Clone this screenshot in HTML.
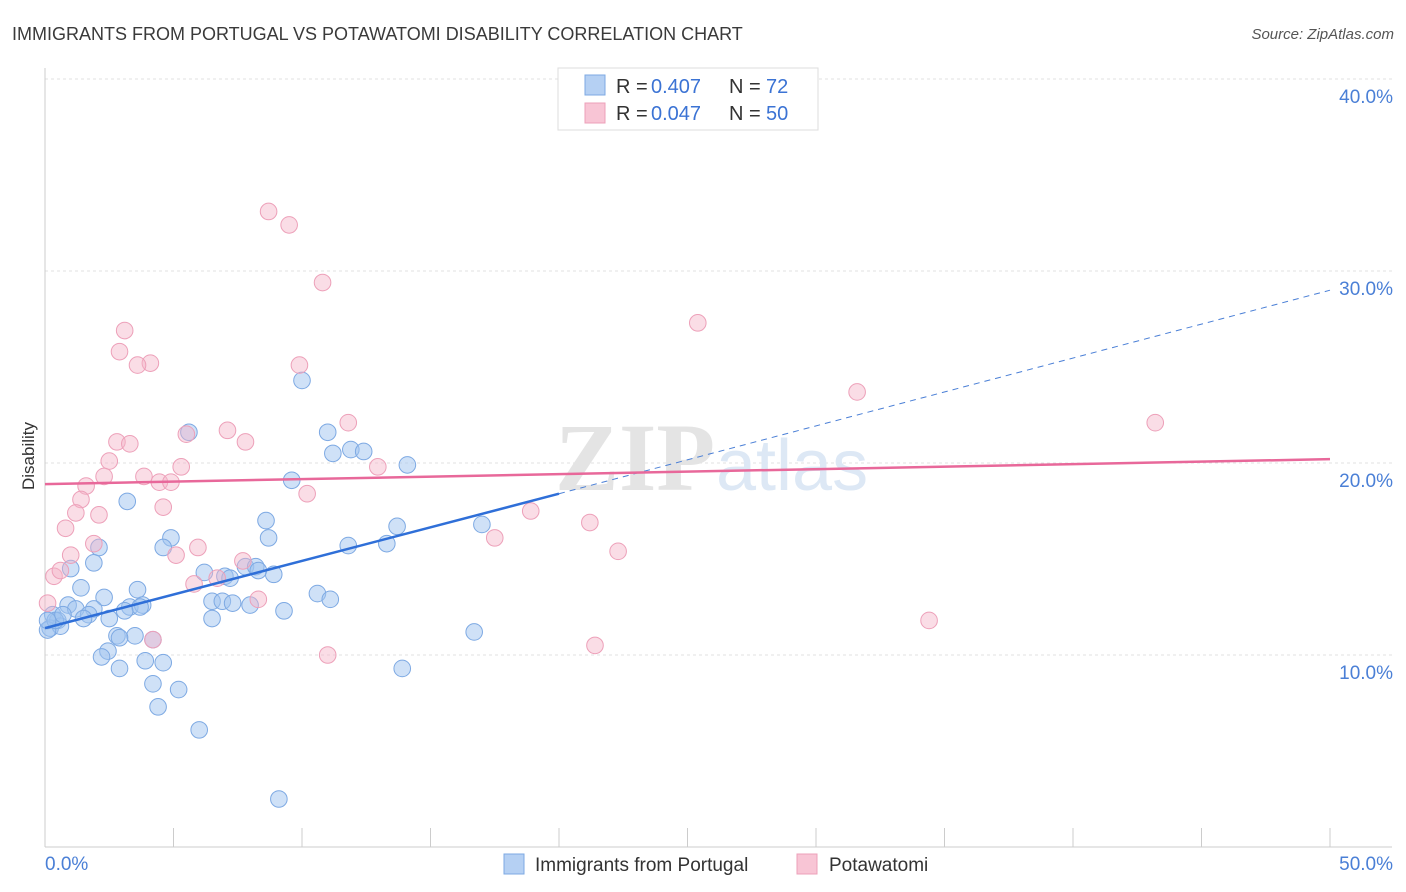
<!DOCTYPE html>
<html><head><meta charset="utf-8">
<style>
body{margin:0;background:#fff;font-family:"Liberation Sans",sans-serif;}
#wrap{position:relative;width:1406px;height:892px;overflow:hidden;}
</style></head>
<body><div id="wrap">
<svg id="chart" width="1406" height="892"></svg>
</div>
<script>
const xTicks=[0,5,10,15,20,25,30,35,40,45,50];
const yTicks=[10,20,30,40];
const blueX=[10.0,5.6,11.0,11.9,11.2,12.4,14.1,9.6,3.2,8.6,13.7,17.0,8.7,4.9,4.6,2.1,11.8,13.3,1.9,1.0,7.8,8.2,8.9,8.3,6.2,7.0,7.2,1.4,3.6,10.6,11.1,2.3,6.5,6.9,7.3,7.980,0.9,1.9,1.2,3.3,3.8,3.7,3.1,9.3,6.5,1.7,1.5,2.5,0.3,0.5,0.2,0.6,0.1,2.8,3.5,4.2,2.9,16.7,2.45,2.2,3.9,4.6,2.9,13.9,4.2,5.2,4.4,6.0,9.1,0.4,0.7,0.1];
const blueY=[24.3,21.6,21.6,20.7,20.5,20.6,19.9,19.1,18.0,17.0,16.7,16.8,16.1,16.1,15.6,15.6,15.7,15.8,14.8,14.5,14.6,14.6,14.2,14.4,14.3,14.1,14.0,13.5,13.4,13.2,12.9,13.0,12.8,12.8,12.7,12.6,12.6,12.4,12.4,12.5,12.6,12.5,12.3,12.3,11.9,12.1,11.9,11.9,12.1,11.8,11.4,11.5,11.3,11.0,11.0,10.8,10.9,11.2,10.2,9.9,9.7,9.6,9.3,9.3,8.5,8.2,7.3,6.1,2.5,11.8,12.1,11.8];
const pinkX=[8.7,9.5,10.8,3.1,2.9,4.1,3.6,9.9,25.4,31.6,43.2,11.8,7.1,5.5,7.8,2.8,3.3,2.5,5.3,3.85,2.3,12.95,4.45,4.9,1.6,1.4,10.2,4.6,2.1,1.2,18.9,21.2,0.8,17.5,1.9,5.95,5.1,1.0,22.3,7.7,0.35,0.6,6.7,5.8,8.3,0.1,34.4,4.2,11.0,21.4];
const pinkY=[33.1,32.4,29.4,26.9,25.8,25.2,25.1,25.1,27.3,23.7,22.1,22.1,21.7,21.5,21.1,21.1,21.0,20.1,19.8,19.3,19.3,19.8,19.0,19.0,18.8,18.1,18.4,17.7,17.3,17.4,17.5,16.9,16.6,16.1,15.8,15.6,15.2,15.2,15.4,14.9,14.1,14.4,14.0,13.7,12.9,12.7,11.8,10.8,10.0,10.5];
const NS="http://www.w3.org/2000/svg";
const svg=document.getElementById('chart');
const X=v=>45+v*25.7, Y=v=>847-v*19.2;
function mk(t,a,p){const e=document.createElementNS(NS,t);for(const k in a)e.setAttribute(k,a[k]);(p||svg).appendChild(e);return e;}
function tx(x,y,s,a){const e=mk('text',Object.assign({x:x,y:y},a));e.textContent=s;return e;}
yTicks.forEach(v=>{const g=mk('line',{x1:45,x2:1392,y1:Y(v),y2:Y(v),stroke:'#e0e0e0','stroke-dasharray':'3,3'});

const t=tx(1393,Y(v)+24,v.toFixed(1)+'%',{'text-anchor':'end','font-size':19,fill:'#4a7fd6'});
});
const ax=mk('line',{x1:45,x2:45,y1:68,y2:847,stroke:'#ccc'});
const bx=mk('line',{x1:45,x2:1392,y1:847,y2:847,stroke:'#ccc'});
xTicks.forEach(v=>{const l=mk('line',{x1:X(v),x2:X(v),y1:828,y2:847,stroke:'#ccc'});});
let t=tx(45,870,'0.0%',{'font-size':19,fill:'#4a7fd6'});
t=tx(1393,870,'50.0%',{'text-anchor':'end','font-size':19,fill:'#4a7fd6'});
t=tx(555,490,'ZIP',{'font-size':96,fill:'#e4e4e4','font-family':'Liberation Serif,serif','font-weight':'bold'});
t=tx(716,490,'atlas',{'font-size':72,fill:'#dde8f5'});
blueX.forEach((v,i)=>{const c=mk('circle',{cx:X(v),cy:Y(blueY[i]),r:8.3,fill:'rgba(160,195,240,0.5)',stroke:'#7da9e3','stroke-width':1});
});
pinkX.forEach((v,i)=>{const c=mk('circle',{cx:X(v),cy:Y(pinkY[i]),r:8.3,fill:'rgba(245,180,200,0.45)',stroke:'#eda0b9','stroke-width':1});
});
let l=mk('line',{x1:X(0),y1:Y(11.4),x2:X(20),y2:Y(18.4),stroke:'#2f6fd8','stroke-width':2.5});
l=mk('line',{x1:X(20),y1:Y(18.4),x2:X(50),y2:Y(29.0),stroke:'#4a7fd6','stroke-width':1,'stroke-dasharray':'6,5'});
l=mk('line',{x1:X(0),y1:Y(18.9),x2:X(50),y2:Y(20.2),stroke:'#e8689a','stroke-width':2.5});
t=tx(12,40,'IMMIGRANTS FROM PORTUGAL VS POTAWATOMI DISABILITY CORRELATION CHART',{'font-size':18,fill:'#3a3a3a'});
t=tx(1394,39,'Source: ZipAtlas.com',{'font-size':15,fill:'#555','text-anchor':'end','font-style':'italic'});
t=tx(34,456,'Disability',{'font-size':17,fill:'#333','text-anchor':'middle',transform:'rotate(-90 34 456)'});
let r=mk('rect',{x:558,y:68,width:260,height:62,fill:'#fff',stroke:'#ddd'});
r=mk('rect',{x:585,y:75,width:20,height:20,fill:'#b5d0f3',stroke:'#7da9e3'});
r=mk('rect',{x:585,y:103,width:20,height:20,fill:'#f8c5d5',stroke:'#eda0b9'});
function stat(y,rv,nv,nm){
let a=tx(616,y,'R =',{'font-size':20,fill:'#333'});
a=tx(651,y,rv,{'font-size':20,fill:'#3b73d4'});
a=tx(729,y,'N =',{'font-size':20,fill:'#333'});
a=tx(766,y,nv,{'font-size':20,fill:'#3b73d4'});}
stat(93,'0.407','72','blue-stats');stat(120,'0.047','50','pink-stats');
r=mk('rect',{x:504,y:854,width:20,height:20,fill:'#b5d0f3',stroke:'#7da9e3'});
t=tx(535,871,'Immigrants from Portugal',{'font-size':19,fill:'#333'});
r=mk('rect',{x:797,y:854,width:20,height:20,fill:'#f8c5d5',stroke:'#eda0b9'});
t=tx(829,871,'Potawatomi',{'font-size':19,fill:'#333'});
</script></body></html>
